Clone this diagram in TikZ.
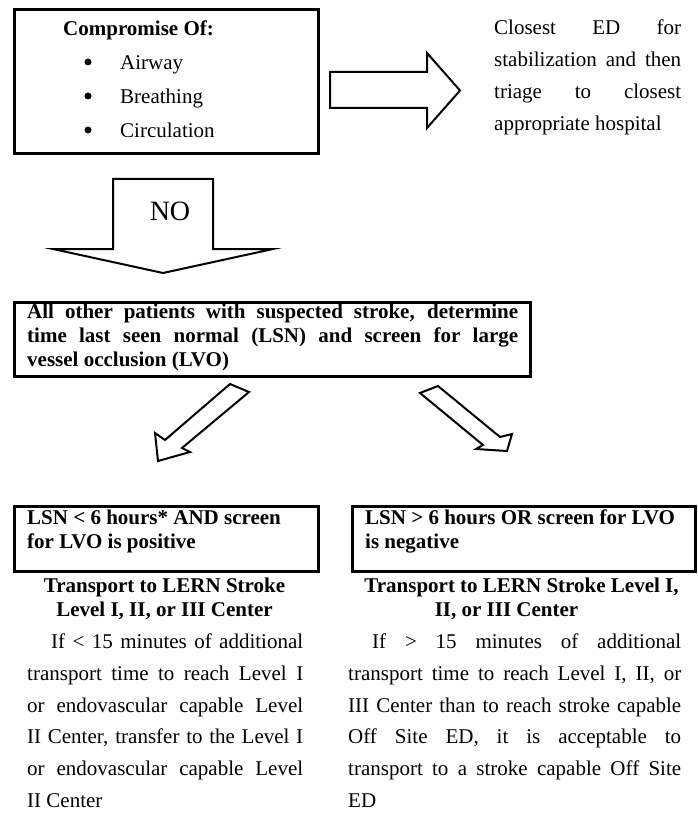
\documentclass[tikz,border=0pt]{standalone}
\usepackage{fontspec}
\setmainfont{Liberation Serif}
\begin{document}
\begin{tikzpicture}[x=1pt,y=-1pt,
  boxst/.style={draw=black,line width=3pt,inner sep=0pt,fill=white,anchor=north west},
  blockarrow/.style={draw=black,line width=2pt,fill=white,line join=miter},
  bulletdot/.style={circle,fill=black,inner sep=0pt,minimum size=7pt},
  txt/.style={inner sep=0pt,font=\fontsize{21}{24}\selectfont},
  btxt/.style={inner sep=0pt,font=\fontsize{21}{24}\selectfont\bfseries},
  notxt/.style={inner sep=0pt,font=\fontsize{28}{30}\selectfont}]
\useasboundingbox (0,0) rectangle (697,813);

% ---------- boxes ----------
\node[boxst,minimum width=304pt,minimum height=144pt] (b1) at (12.5,8.5) {};
\node[boxst,minimum width=516pt,minimum height=74pt] (b2) at (12.5,300.5) {};
\node[boxst,minimum width=304pt,minimum height=65pt] (b3) at (12.5,504.5) {};
\node[boxst,minimum width=343pt,minimum height=65pt] (b4) at (350.5,504.5) {};

% ---------- box 1 text ----------
\node[btxt,anchor=base west] (t1) at (63,36) {Compromise Of:};
\node[bulletdot] (u1) at (88,62) {};
\node[bulletdot] (u2) at (88,96) {};
\node[bulletdot] (u3) at (88,130) {};
\node[txt,anchor=base west] (i1) at (120,70) {Airway};
\node[txt,anchor=base west] (i2) at (120,104) {Breathing};
\node[txt,anchor=base west] (i3) at (120,138) {Circulation};

% ---------- right text ----------
\node[txt,anchor=base west] (c1) at (494,35) {\makebox[187pt][s]{Closest ED for}};
\node[txt,anchor=base west] (c2) at (494,67) {\makebox[187pt][s]{stabilization and then}};
\node[txt,anchor=base west] (c3) at (494,99) {\makebox[187pt][s]{triage to closest}};
\node[txt,anchor=base west] (c4) at (494,131) {appropriate hospital};

% ---------- block arrows ----------
\draw[blockarrow] (330,72) -- (427,72) -- (427,53) -- (460,90.5) -- (427,128) -- (427,108) -- (330,108) -- cycle;
\draw[blockarrow] (113,179) -- (213,179) -- (213,249) -- (273,249) -- (163,273) -- (53,249) -- (113,249) -- cycle;
\node[notxt,anchor=base] (no) at (170,220) {NO};

% diagonal arrows
\draw[blockarrow] (230,384) -- (249,392) -- (182,448) -- (190,452) -- (158,461) -- (155,433) -- (165,440) -- cycle;
\draw[blockarrow] (438,386) -- (500,437) -- (512,434) -- (507,451) -- (476,449) -- (483,445) -- (420,393) -- cycle;

% ---------- box 2 text ----------
\node[btxt,anchor=base west] (m1) at (27,318) {\makebox[491pt][s]{All other patients with suspected stroke, determine}};
\node[btxt,anchor=base west] (m2) at (27,342) {\makebox[491pt][s]{time last seen normal (LSN) and screen for large}};
\node[btxt,anchor=base west] (m3) at (27,366) {vessel occlusion (LVO)};

% ---------- bottom boxes text ----------
\node[btxt,anchor=base west] (p1) at (27,524) {LSN < 6 hours* AND screen};
\node[btxt,anchor=base west] (p2) at (27,548) {for LVO is positive};
\node[btxt,anchor=base west] (q1) at (365,524) {LSN > 6 hours OR screen for LVO};
\node[btxt,anchor=base west] (q2) at (365,548) {is negative};

% ---------- headings ----------
\node[btxt,anchor=base] (h1) at (164.5,592) {Transport to LERN Stroke};
\node[btxt,anchor=base] (h2) at (164.5,616) {Level I, II, or III Center};
\node[btxt,anchor=base] (h3) at (521.5,592) {Transport to LERN Stroke Level I,};
\node[btxt,anchor=base] (h4) at (506.5,616) {II, or III Center};

% ---------- left body ----------
\node[txt,anchor=base west] (l1) at (51,648) {\makebox[252pt][s]{If < 15 minutes of additional}};
\node[txt,anchor=base west] (l2) at (27,680) {\makebox[276pt][s]{transport time to reach Level I}};
\node[txt,anchor=base west] (l3) at (27,712) {\makebox[276pt][s]{or endovascular capable Level}};
\node[txt,anchor=base west] (l4) at (27,743) {\makebox[276pt][s]{II Center, transfer to the Level I}};
\node[txt,anchor=base west] (l5) at (27,775) {\makebox[276pt][s]{or endovascular capable Level}};
\node[txt,anchor=base west] (l6) at (27,807) {II Center};

% ---------- right body ----------
\node[txt,anchor=base west] (r1) at (372,648) {\makebox[309pt][s]{If > 15 minutes of additional}};
\node[txt,anchor=base west] (r2) at (348,680) {\makebox[333pt][s]{transport time to reach Level I, II, or}};
\node[txt,anchor=base west] (r3) at (348,712) {\makebox[333pt][s]{III Center than to reach stroke capable}};
\node[txt,anchor=base west] (r4) at (348,743) {\makebox[333pt][s]{Off Site ED, it is acceptable to}};
\node[txt,anchor=base west] (r5) at (348,775) {\makebox[333pt][s]{transport to a stroke capable Off Site}};
\node[txt,anchor=base west] (r6) at (348,807) {ED};
\end{tikzpicture}
\end{document}
